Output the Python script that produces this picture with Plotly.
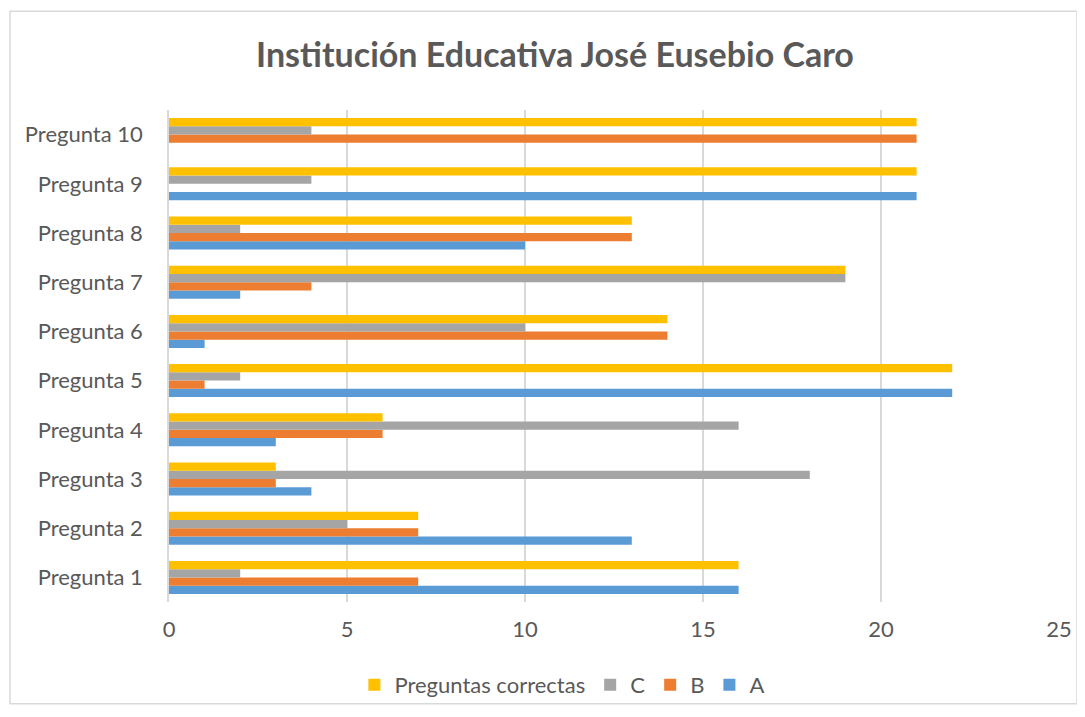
import plotly.graph_objects as go

categories = ["Pregunta 1", "Pregunta 2", "Pregunta 3", "Pregunta 4", "Pregunta 5",
              "Pregunta 6", "Pregunta 7", "Pregunta 8", "Pregunta 9", "Pregunta 10"]
A = [16, 13, 4, 3, 22, 1, 2, 10, 21, 0]
B = [7, 7, 3, 6, 1, 14, 4, 13, 0, 21]
C = [2, 5, 18, 16, 2, 10, 19, 2, 4, 4]
correctas = [16, 7, 3, 6, 22, 14, 19, 13, 21, 21]

series = [("A", A, "#5B9BD5"), ("B", B, "#ED7D31"), ("C", C, "#A5A5A5"),
          ("Preguntas correctas", correctas, "#FFC000")]

W, H = 1077, 709
L, R, T, Bm = 161, 26, 102, 114
pw, ph = W - L - R, H - T - Bm

fig = go.Figure()
for name, vals, color in series:
    fig.add_trace(go.Bar(y=categories, x=vals, name=name, orientation="h",
                         marker=dict(color=color, line=dict(width=0))))

fig.update_layout(
    width=W, height=H,
    paper_bgcolor="white", plot_bgcolor="white",
    barmode="group", bargap=0.33, bargroupgap=0,
    margin=dict(l=L, r=R, t=T, b=Bm),
    font=dict(family="Lato, Open Sans, sans-serif", color="#595959", size=20),
    title=dict(text="<b>Institución Educativa José Eusebio Caro</b>", x=547/W, xanchor="center",
               xref="container", y=1 - 47/H, yanchor="middle", font=dict(size=34, color="#595959")),
    legend=dict(orientation="h", x=0.442, xanchor="center", y=-(677 - T - ph)/ph, yanchor="middle",
                traceorder="reversed", font=dict(size=22, color="#595959"),
                bgcolor="rgba(0,0,0,0)", itemwidth=30, tracegroupgap=0),
    xaxis=dict(range=[0, 25], dtick=5, showgrid=True, gridcolor="#D9D9D9", gridwidth=1.5,
               zeroline=False, ticks="", tickfont=dict(size=22, color="#595959"), showline=False,
               ticklabelstandoff=12),
    yaxis=dict(showgrid=False, ticks="", tickfont=dict(size=22, color="#595959"),
               showline=True, linecolor="#D9D9D9", linewidth=1.5, ticklabelstandoff=20),
    shapes=[dict(type="rect", xref="paper", yref="paper", x0=-(L - 2)/pw, x1=1 + (1069 - L - pw)/pw,
                 y0=-(697 - T - ph)/ph, y1=1 + (T - 3)/ph, line=dict(color="#D9D9D9", width=1.5),
                 fillcolor="rgba(0,0,0,0)", layer="below")],
)

fig.write_html("out.html")
